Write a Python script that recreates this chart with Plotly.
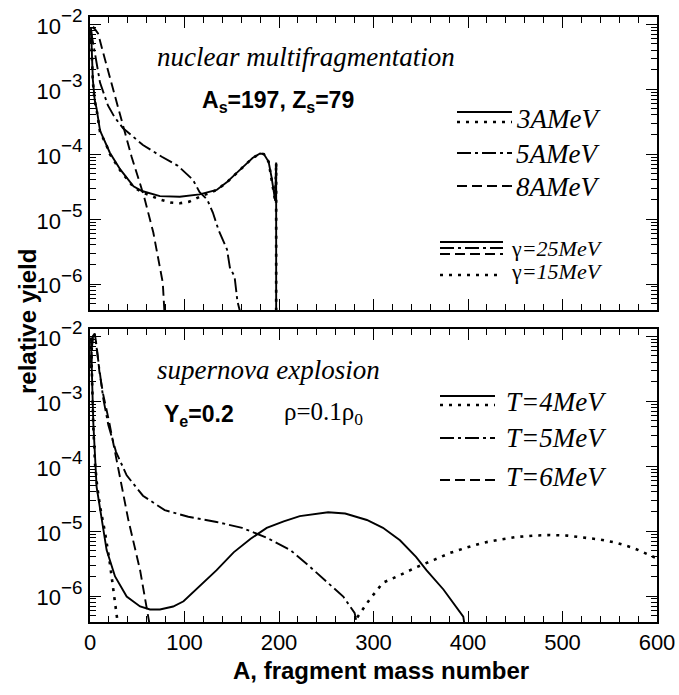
import plotly.graph_objects as go

# ---------------- data ----------------
# Top panel: nuclear multifragmentation, As=197, Zs=79
A_3mev_g25 = [1, 2, 3, 5, 7, 10.6, 17.6, 21, 32, 46, 55, 74, 95, 116, 134, 145, 151, 162, 166, 172, 180, 184, 189, 192, 194, 196, 197, 197]
Y_3mev_g25 = [9e-3, 3.2e-3, 1.4e-3, 6.8e-4, 5.0e-4, 2.3e-4, 1.4e-4, 1.05e-4, 5.8e-5, 3.2e-5, 2.7e-5, 2.25e-5, 2.2e-5, 2.4e-5, 2.8e-5, 3.7e-5, 4.5e-5, 6.5e-5, 7.2e-5, 8.7e-5, 1.02e-4, 1.0e-4, 7.6e-5, 4.5e-5, 2.8e-5, 1.9e-5, 7.4e-5, 1e-9]

A_3mev_g15 = [1, 2, 3, 5, 7, 10.6, 17.6, 21, 32, 46, 55, 74, 85, 95, 105, 116, 134, 145, 151, 162, 166, 172, 180, 184, 189, 192, 194, 196, 197, 197]
Y_3mev_g15 = [8e-3, 3.0e-3, 1.3e-3, 6.5e-4, 4.8e-4, 2.2e-4, 1.35e-4, 1.0e-4, 5.6e-5, 3.1e-5, 2.6e-5, 2.0e-5, 1.8e-5, 1.75e-5, 1.85e-5, 2.2e-5, 2.8e-5, 3.7e-5, 4.5e-5, 6.5e-5, 7.2e-5, 8.7e-5, 1.02e-4, 1.0e-4, 7.6e-5, 4.5e-5, 2.8e-5, 1.9e-5, 7.4e-5, 1e-9]

A_5mev = [1, 3, 5.3, 10.6, 19, 26, 35, 56, 76, 93, 109, 116, 124, 130, 136, 145, 148, 153, 156, 160]
Y_5mev = [7.9e-3, 5.0e-3, 3.5e-3, 1.26e-3, 5.6e-4, 3.7e-4, 2.5e-4, 1.38e-4, 9.1e-5, 6.6e-5, 4.0e-5, 2.6e-5, 2.0e-5, 1.26e-5, 6.8e-6, 3.4e-6, 1.8e-6, 1.3e-6, 5.4e-7, 3.2e-7]

A_8mev = [1, 2, 4, 8.5, 14, 18, 21, 26, 35, 44, 53, 58, 67, 72, 77, 79]
Y_8mev = [5.0e-3, 7.9e-3, 8.9e-3, 7.2e-3, 3.6e-3, 2.2e-3, 1.4e-3, 7.6e-4, 2.7e-4, 9.1e-5, 3.5e-5, 2.0e-5, 6.2e-6, 2.6e-6, 1.05e-6, 3.2e-7]

# Bottom panel: supernova explosion, Ye=0.2, rho=0.1 rho0
A_T4_solid = [1, 2, 3.5, 7, 12.3, 17.6, 26.5, 38.8, 53, 63.5, 74, 88, 99, 116, 134, 152, 170, 187, 205, 222, 252, 270, 293, 310, 328, 345, 356, 374, 388, 395, 398]
Y_T4_solid = [9e-3, 2.5e-3, 4.6e-4, 4.8e-5, 1.5e-5, 5.1e-6, 2.0e-6, 9.8e-7, 6.9e-7, 6.2e-7, 6.2e-7, 6.9e-7, 8.3e-7, 1.4e-6, 2.5e-6, 4.7e-6, 7.6e-6, 1.12e-5, 1.41e-5, 1.7e-5, 1.95e-5, 1.86e-5, 1.48e-5, 1.12e-5, 7.2e-6, 4.0e-6, 2.5e-6, 1.26e-6, 6.8e-7, 4.8e-7, 2.5e-7]

A_T4_dot = [1, 2, 3.5, 5.3, 7.5, 10.6, 16, 21, 25.4, 29, 31, None, 280, 282, 296, 310, 328, 346, 364, 381, 399, 416, 434, 451, 469, 487, 505, 522, 540, 557, 575, 590, 600]
Y_T4_dot = [9.5e-3, 2.5e-3, 4.0e-4, 1.1e-4, 5.0e-5, 2.4e-5, 9.3e-6, 3.2e-6, 1.1e-6, 4.3e-7, 2.5e-7, None, 2.5e-7, 4.5e-7, 8.9e-7, 1.6e-6, 2.1e-6, 2.8e-6, 3.6e-6, 4.6e-6, 5.6e-6, 6.6e-6, 7.4e-6, 8.1e-6, 8.5e-6, 8.7e-6, 8.5e-6, 7.9e-6, 7.4e-6, 6.6e-6, 5.5e-6, 4.4e-6, 3.8e-6]

A_T5 = [1, 3, 5, 7, 10, 14, 19.4, 27.5, 38.8, 56, 79, 104, 134, 161, 187, 212, 233, 252, 268, 280, 285]
Y_T5 = [3.2e-3, 1.0e-2, 1.1e-2, 6.3e-3, 2.8e-3, 1.1e-3, 4.3e-4, 1.66e-4, 7.2e-5, 3.5e-5, 2.1e-5, 1.66e-5, 1.38e-5, 1.12e-5, 7.9e-6, 5.1e-6, 2.8e-6, 1.6e-6, 9.8e-7, 5.5e-7, 2.5e-7]

A_T6 = [1, 3, 5, 7, 10, 14, 20, 30, 40.5, 53, 60, 65]
Y_T6 = [4.0e-3, 1.0e-2, 1.1e-2, 7.1e-3, 2.8e-3, 1.26e-3, 5.0e-4, 8.7e-5, 1.5e-5, 2.5e-6, 6.9e-7, 2.5e-7]

y_tickvals = [1e-2, 1e-3, 1e-4, 1e-5, 1e-6]
y_ticktext = ["<span style='font-size:22px'>10</span><sup>\u22122</sup>",
              "<span style='font-size:22px'>10</span><sup>\u22123</sup>",
              "<span style='font-size:22px'>10</span><sup>\u22124</sup>",
              "<span style='font-size:22px'>10</span><sup>\u22125</sup>",
              "<span style='font-size:22px'>10</span><sup>\u22126</sup>"]
x_tickvals = [0, 100, 200, 300, 400, 500, 600]

# ---------------- styles ----------------
DOT = "3px,6px"
DASH = "10px,5px"
DASHDOT = "14px,4px,3px,4px"
SANS = "Liberation Sans, Arial, sans-serif"
SERIF = "Liberation Serif, Times New Roman, serif"

fig = go.Figure()

def add(x, y, dash, xa, ya, width=2.0):
    fig.add_trace(go.Scatter(x=x, y=y, mode="lines", xaxis=xa, yaxis=ya,
                             line=dict(color="black", width=width, dash=dash),
                             connectgaps=False, showlegend=False, hoverinfo="skip"))

# top panel
add(A_3mev_g25, Y_3mev_g25, "solid", "x2", "y2", 1.9)
add(A_3mev_g15, Y_3mev_g15, DOT, "x2", "y2", 2.6)
add(A_5mev, Y_5mev, DASHDOT, "x2", "y2", 1.9)
add(A_8mev, Y_8mev, DASH, "x2", "y2", 1.9)
# bottom panel
add(A_T4_solid, Y_T4_solid, "solid", "x", "y", 1.9)
add(A_T4_dot, Y_T4_dot, DOT, "x", "y", 2.6)
add(A_T5, Y_T5, DASHDOT, "x", "y", 1.9)
add(A_T6, Y_T6, DASH, "x", "y", 1.9)

# ---------------- axes ----------------
W, H = 679, 695
ML, MR, MT, MB = 90, 22, 17, 73
PW, PH = W - ML - MR, H - MT - MB

def dom_y(top_px, bot_px):
    return [1 - (bot_px - MT) / PH, 1 - (top_px - MT) / PH]

def xaxis_cfg(labels, anchor):
    return dict(range=[0, 600], tickvals=x_tickvals, showticklabels=labels,
                ticks="inside", ticklen=11, tickwidth=1.2, tickcolor="black",
                minor=dict(ticks="inside", ticklen=6, tickwidth=1, tickcolor="black", dtick=20),
                showline=True, linecolor="black", linewidth=2, mirror="ticks",
                showgrid=False, zeroline=False, anchor=anchor, automargin=False,
                tickfont=dict(family=SANS, size=22, color="black"))

def yaxis_cfg(domain, anchor):
    return dict(type="log", range=[-6.4, -1.89], domain=domain, anchor=anchor,
                tickvals=y_tickvals, ticktext=y_ticktext, automargin=False,
                ticks="inside", ticklen=11, tickwidth=1.2, tickcolor="black",
                minor=dict(ticks="inside", ticklen=6, tickwidth=1, tickcolor="black", dtick="D1"),
                showline=True, linecolor="black", linewidth=2, mirror="ticks",
                showgrid=False, zeroline=False,
                tickfont=dict(family=SANS, size=27, color="black"))

fig.update_layout(
    width=W, height=H,
    margin=dict(l=ML, r=MR, t=MT, b=MB, autoexpand=False),
    paper_bgcolor="white", plot_bgcolor="white",
    xaxis=xaxis_cfg(True, "y"),
    yaxis=yaxis_cfg(dom_y(329, 622), "x"),
    xaxis2=xaxis_cfg(False, "y2"),
    yaxis2=yaxis_cfg(dom_y(17, 310), "x2"),
)

# ---------------- text & legend ----------------
def px(x):
    return (x - ML) / PW

def py(y):
    return 1 - (y - MT) / PH

def note(x, y, text, size, family, xanchor="left", angle=0):
    fig.add_annotation(x=px(x), y=py(y), xref="paper", yref="paper", text=text,
                       showarrow=False, xanchor=xanchor, yanchor="middle", textangle=angle,
                       font=dict(family=family, size=size, color="black"))

def sample(x0, x1, y, dash, width=1.9):
    fig.add_shape(type="line", xref="paper", yref="paper", x0=px(x0), x1=px(x1),
                  y0=py(y), y1=py(y), line=dict(color="black", width=width, dash=dash))

# top panel labels
note(155, 57, "<i>nuclear multifragmentation</i>", 27, SERIF)
note(200, 101, "<b>A<sub>s</sub>=197, Z<sub>s</sub>=79</b>", 23, SANS)
sample(457, 512, 112, "solid")
sample(457, 512, 122, DOT, 2.6)
note(514, 119, "<i>3AMeV</i>", 27, SERIF)
sample(457, 512, 153, DASHDOT)
note(514, 154, "<i>5AMeV</i>", 27, SERIF)
sample(457, 512, 186, DASH)
note(514, 187, "<i>8AMeV</i>", 27, SERIF)
sample(440, 503, 242, "solid")
sample(440, 503, 248, DASHDOT)
sample(440, 503, 254, DASH)
note(509, 248, "\u03b3<i>=25MeV</i>", 22, SERIF)
sample(440, 503, 275, DOT, 2.6)
note(509, 272, "\u03b3<i>=15MeV</i>", 22, SERIF)

# bottom panel labels
note(155, 370, "<i>supernova explosion</i>", 27, SERIF)
note(162, 415, "<b>Y<sub>e</sub>=0.2</b>", 23, SANS)
note(282, 413, "\u03c1=0.1\u03c1<sub>0</sub>", 25, SERIF)
sample(440, 495, 396, "solid")
sample(440, 495, 405, DOT, 2.6)
note(504, 402, "<i>T=4MeV</i>", 27, SERIF)
sample(440, 495, 438, DASHDOT)
note(504, 438, "<i>T=5MeV</i>", 27, SERIF)
sample(440, 495, 480, DASH)
note(504, 477, "<i>T=6MeV</i>", 27, SERIF)

# axis titles
note(381, 670, "<b>A, fragment mass number</b>", 24, SANS, xanchor="center")
note(27, 322, "<b>relative yield</b>", 24, SANS, xanchor="center", angle=-90)

fig.write_html("out.html", config={"displayModeBar": False},
               post_script="document.body.style.margin='0px';document.body.style.overflow='hidden';")
